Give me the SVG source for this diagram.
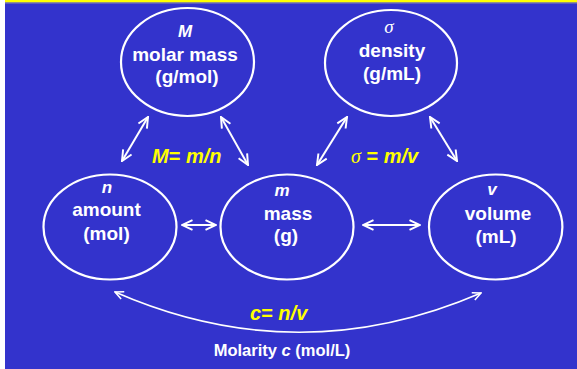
<svg xmlns="http://www.w3.org/2000/svg" width="577" height="369" viewBox="0 0 577 369">
<style>
.node ellipse{fill:none;stroke:#fff;stroke-width:2.2}
.lbl{font-family:"Liberation Sans",Arial,sans-serif;font-weight:bold;font-size:19px;fill:#fff;text-anchor:middle}
.sym{font-family:"Liberation Sans",Arial,sans-serif;font-weight:bold;font-style:italic;font-size:17px;fill:#fff;text-anchor:middle}
.sig{font-family:"Liberation Serif","Times New Roman",serif;font-style:italic;font-size:19px;text-anchor:middle}
.eq{font-family:"Liberation Sans",Arial,sans-serif;font-weight:bold;font-style:italic;font-size:20px;fill:#ffff00}
.conn line,.conn path{stroke:#fff;stroke-width:2;fill:none;marker-start:url(#ah);marker-end:url(#ah)}
</style>
<defs>
<marker id="ah" viewBox="0 0 10 10" refX="9" refY="5" markerWidth="7" markerHeight="7" orient="auto-start-reverse" markerUnits="strokeWidth">
<path d="M1.5,1.5 L9,5 L1.5,8.5" fill="none" stroke="#fff" stroke-width="1.4"/>
</marker>
</defs>
<rect x="0" y="0" width="577" height="369" fill="#fff"/>
<rect x="5" y="0" width="572" height="369" fill="#3333cc"/>
<rect x="5" y="0" width="572" height="2.5" fill="#ffff00"/>
<rect x="5" y="2.5" width="572" height="1" fill="#8888aa"/>

<g class="conn">
<line x1="148" y1="117" x2="122" y2="161"/>
<line x1="221" y1="117" x2="248" y2="165"/>
<line x1="347" y1="117" x2="317" y2="165"/>
<line x1="430" y1="117" x2="457" y2="161"/>
<line x1="182" y1="225" x2="216" y2="225"/>
<line x1="363" y1="225" x2="420" y2="225"/>
<path d="M115,292 Q298,372 481,293" style="stroke-width:1.6"/>
</g>

<g id="molar" class="node">
<ellipse cx="187.5" cy="62" rx="66.5" ry="54"/>
<text class="sym" x="185" y="37">M</text>
<text class="lbl" x="185" y="61">molar mass</text>
<text class="lbl" x="187" y="83">(g/mol)</text>
</g>
<g id="density" class="node">
<ellipse cx="391" cy="63" rx="66" ry="53"/>
<text class="sig" x="389" y="33" fill="#fff">σ</text>
<text class="lbl" x="392" y="57">density</text>
<text class="lbl" x="392" y="80">(g/mL)</text>
</g>
<g id="amount" class="node">
<ellipse cx="110" cy="227" rx="66.5" ry="52.5"/>
<text class="sym" x="107" y="193">n</text>
<text class="lbl" x="106.5" y="216">amount</text>
<text class="lbl" x="106.5" y="240">(mol)</text>
</g>
<g id="mass" class="node">
<ellipse cx="287" cy="227" rx="66.5" ry="52.5"/>
<text class="sym" x="282" y="196">m</text>
<text class="lbl" x="288" y="220">mass</text>
<text class="lbl" x="286" y="242">(g)</text>
</g>
<g id="volume" class="node">
<ellipse cx="495.7" cy="227" rx="66.7" ry="52.5"/>
<text class="sym" x="492" y="195">v</text>
<text class="lbl" x="498" y="220">volume</text>
<text class="lbl" x="496" y="243">(mL)</text>
</g>

<text class="eq" x="152" y="163">M<tspan font-style="normal">=</tspan> m/n</text>
<text class="eq" x="351" y="163"><tspan font-family="Liberation Serif,serif" font-weight="normal">σ</tspan><tspan font-style="normal"> =</tspan> m/v</text>
<text class="eq" x="250" y="320">c<tspan font-style="normal">=</tspan> n/v</text>
<text class="lbl" x="282" y="356" style="font-size:16.5px">Molarity <tspan font-style="italic">c</tspan> (mol/L)</text>
</svg>
